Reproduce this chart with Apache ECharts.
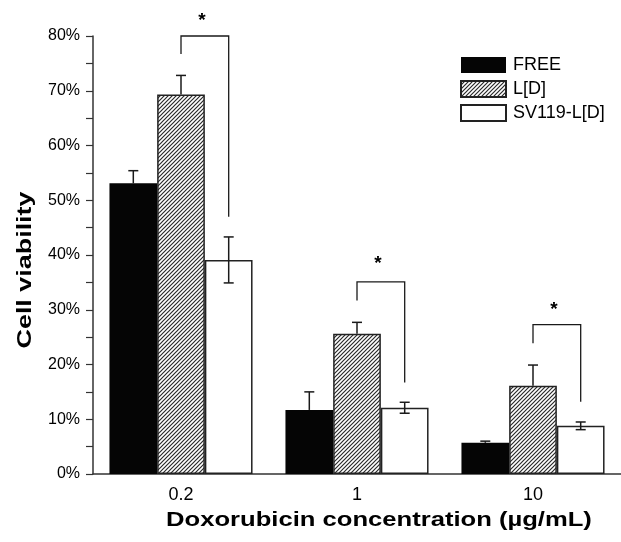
<!DOCTYPE html>
<html>
<head>
<meta charset="utf-8">
<script src="https://cdn.jsdelivr.net/npm/echarts@6/dist/echarts.min.js"></script>
<style>
  html, body { margin: 0; padding: 0; background: #ffffff; }
  #chart { width: 621px; height: 542px; }
</style>
</head>
<body>
<div id="chart"></div>
<script>
// ---- data ----
const categories = ['0.2', '1', '10'];
const seriesNames = ['FREE', 'L[D]', 'SV119-L[D]'];
const freeValues = [53.1, 11.7, 5.7];
const freeErrors = [2.3, 3.3, 0.3];
const ldValues = [69.3, 25.6, 16.1];
const ldErrors = [3.5, 2.1, 3.8];
const svValues = [39.1, 12.1, 8.8];
const svErrors = [4.2, 1.0, 0.7];
// significance brackets (between L[D] and SV119-L[D])
const bracketTop = [80, 35.1, 27.3];
const bracketLeftEnd = [76.7, 31.7, 23.9];
const bracketRightEnd = [47.0, 16.7, 13.2];
const starLevel = [83.6, 39.2, 30.7];
const starLabels = ['*', '*', '*'];
const yMin = 0, yMax = 80, yStep = 10;
const xTitle = 'Doxorubicin concentration (\u00b5g/mL)';
const yTitle = 'Cell viability';

// ---- layout ----
const CAT_GAP = 0.187;
const INK = '#1a1a1a';

function makeHatch() {
  const c = document.createElement('canvas');
  const s = 4;
  c.width = s; c.height = s;
  const g = c.getContext('2d');
  g.fillStyle = '#ffffff';
  g.fillRect(0, 0, s, s);
  g.strokeStyle = '#2a2a2a';
  g.lineWidth = 1.2;
  g.beginPath();
  g.moveTo(-1, s + 1); g.lineTo(s + 1, -1);
  g.moveTo(-1, 1); g.lineTo(1, -1);
  g.moveTo(s - 1, s + 1); g.lineTo(s + 1, s - 1);
  g.stroke();
  return c;
}
const hatch = makeHatch();

function barW(api) {
  return api.size([1, 0])[0] * (1 - CAT_GAP) / 3;
}

function errorSeries(values, errors, slot, bothSides, z) {
  return {
    type: 'custom',
    z: z,
    silent: true,
    data: values.map((v, i) => [i, v, errors[i]]),
    renderItem: function (params, api) {
      const i = api.value(0), v = api.value(1), e = api.value(2);
      const bw = barW(api);
      const c = api.coord([i, v]);
      const x = c[0] + (slot - 1) * bw;
      const top = api.coord([i, v + e])[1];
      const bot = bothSides ? api.coord([i, v - e])[1] : c[1];
      const cap = 5;
      const st = { stroke: INK, lineWidth: 1.5 };
      const children = [
        { type: 'line', shape: { x1: x, y1: top, x2: x, y2: bot }, style: st },
        { type: 'line', shape: { x1: x - cap, y1: top, x2: x + cap, y2: top }, style: st }
      ];
      if (bothSides) {
        children.push({ type: 'line', shape: { x1: x - cap, y1: bot, x2: x + cap, y2: bot }, style: st });
      }
      return { type: 'group', children: children };
    }
  };
}

const chart = echarts.init(document.getElementById('chart'), null, { renderer: 'canvas' });

const option = {
  animation: false,
  backgroundColor: '#ffffff',
  textStyle: { fontFamily: 'Liberation Sans, Arial, sans-serif' },
  grid: { left: 93, right: -9, top: 36, bottom: 68, containLabel: false },
  legend: {
    data: seriesNames,
    orient: 'vertical',
    left: 455,
    top: 51,
    itemWidth: 45,
    itemHeight: 16,
    itemGap: 6,
    selectedMode: false,
    icon: 'rect',
    textStyle: { fontSize: 18, color: '#000', fontFamily: 'Liberation Sans, Arial, sans-serif', padding: [0, 0, 0, 2] }
  },
  xAxis: {
    type: 'category',
    data: categories,
    axisLine: { show: true, lineStyle: { color: '#333', width: 1.5 } },
    axisTick: { show: false },
    axisLabel: { fontSize: 18, color: '#000', margin: 12 },
    splitLine: { show: false }
  },
  yAxis: {
    type: 'value',
    min: yMin, max: yMax, interval: yStep,
    axisLine: { show: true, lineStyle: { color: '#333', width: 1.5 } },
    axisTick: { show: true, inside: false, length: 7, lineStyle: { color: '#333', width: 1.2 } },
    minorTick: { show: true, splitNumber: 2, length: 7, lineStyle: { color: '#333', width: 1.2 } },
    axisLabel: { fontSize: 16, color: '#000', margin: 13, formatter: '{value}%' },
    splitLine: { show: false },
    minorSplitLine: { show: false }
  },
  graphic: [
    {
      type: 'text', x: 379, y: 520, scaleX: 1.28, z: 100,
      style: { text: xTitle, font: 'bold 20px "Liberation Sans", Arial, sans-serif', fill: '#000', textAlign: 'center', textVerticalAlign: 'middle' }
    },
    {
      type: 'text', x: 26, y: 270, rotation: Math.PI / 2, scaleX: 1.38, z: 100,
      style: { text: yTitle, font: 'bold 19.5px "Liberation Sans", Arial, sans-serif', fill: '#000', textAlign: 'center', textVerticalAlign: 'middle' }
    }
  ],
  series: [
    errorSeries(freeValues, freeErrors, 0, false, 1),
    errorSeries(ldValues, ldErrors, 1, false, 1),
    {
      name: seriesNames[0], type: 'bar', data: freeValues, z: 2,
      barGap: '0%', barCategoryGap: (CAT_GAP * 100) + '%',
      itemStyle: { color: '#050505', borderColor: '#050505', borderWidth: 0 }
    },
    {
      name: seriesNames[1], type: 'bar', data: ldValues, z: 2,
      barGap: '0%', barCategoryGap: (CAT_GAP * 100) + '%',
      itemStyle: { color: { image: hatch, repeat: 'repeat' }, borderColor: '#222', borderWidth: 1.5 }
    },
    {
      name: seriesNames[2], type: 'bar', data: svValues, z: 2,
      barGap: '0%', barCategoryGap: (CAT_GAP * 100) + '%',
      itemStyle: { color: '#ffffff', borderColor: '#222', borderWidth: 1.5 }
    },
    errorSeries(svValues, svErrors, 2, true, 3),
    {
      type: 'custom', z: 4, silent: true,
      data: categories.map((c, i) => [i, bracketTop[i], bracketLeftEnd[i], bracketRightEnd[i], starLevel[i]]),
      renderItem: function (params, api) {
        const i = api.value(0);
        const bw = barW(api);
        const cx = api.coord([i, 0])[0];
        const xl = cx, xr = cx + bw;
        const yt = api.coord([i, api.value(1)])[1];
        const yl = api.coord([i, api.value(2)])[1];
        const yr = api.coord([i, api.value(3)])[1];
        const ys = api.coord([i, api.value(4)])[1];
        return {
          type: 'group',
          children: [
            { type: 'polyline', shape: { points: [[xl, yl], [xl, yt], [xr, yt], [xr, yr]] }, style: { stroke: INK, lineWidth: 1.3, fill: null } },
            { type: 'text', style: { text: starLabels[i], x: (xl + xr) / 2 - 3, y: ys + 4, textAlign: 'center', textVerticalAlign: 'middle', font: 'bold 19px "Liberation Sans", Arial, sans-serif', fill: '#000' } }
          ]
        };
      }
    }
  ]
};
chart.setOption(option);
</script>
</body>
</html>
